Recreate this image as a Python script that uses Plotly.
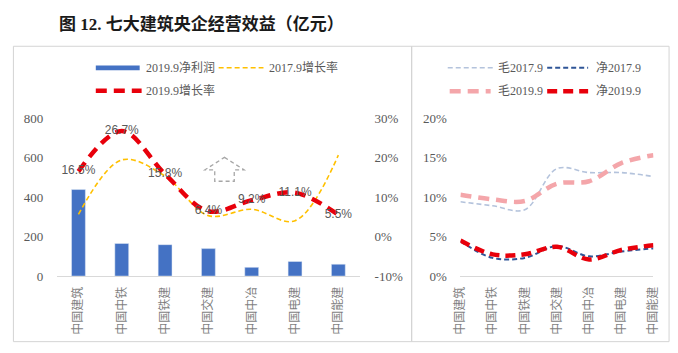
import plotly.graph_objects as go

W, H = 678, 353

# ---------------- data ----------------
companies = ["中国建筑", "中国中铁", "中国铁建", "中国交建", "中国中冶", "中国电建", "中国能建"]
profit_2019 = [438, 165, 159, 139, 44, 74, 60]               # 亿元
growth_2017 = [0.056, 0.194, 0.153, 0.053, 0.069, 0.040, 0.206]
growth_2019 = [0.165, 0.267, 0.158, 0.064, 0.092, 0.111, 0.055]
growth_2019_labels = ["16.5%", "26.7%", "15.8%", "6.4%", "9.2%", "11.1%", "5.5%"]

gross_2017 = [0.094, 0.089, 0.084, 0.136, 0.131, 0.131, 0.126]
net_2017 = [0.044, 0.023, 0.023, 0.038, 0.025, 0.031, 0.035]
gross_2019 = [0.103, 0.097, 0.095, 0.117, 0.120, 0.143, 0.153]
net_2019 = [0.045, 0.0275, 0.0275, 0.037, 0.021, 0.033, 0.039]

left_y_ticks = [0, 200, 400, 600, 800]
left_y2_ticks = [-0.1, 0, 0.1, 0.2, 0.3]
left_y2_text = ["-10%", "0%", "10%", "20%", "30%"]
right_y_ticks = [0, 0.05, 0.10, 0.15, 0.20]
right_y_text = ["0%", "5%", "10%", "15%", "20%"]

# ---------------- helpers ----------------
def PX(x):
    return x / W

def PY(y):
    return 1 - y / H

SERIF = "Liberation Serif, 'Noto Sans CJK SC', serif"
SANS = "'Liberation Sans', Arial, sans-serif"
CJK = "'Noto Sans CJK SC', sans-serif"
GRAY = "#595959"

BLUE = "#4472c4"
YELLOW = "#ffc000"
RED = "#e8000b"
PINK = "#f4a6aa"
LIGHTBLUE = "#b4c3dc"
DARKBLUE = "#2f5597"

fig = go.Figure()

# Left panel
fig.add_trace(go.Bar(x=companies, y=profit_2019, marker_color=BLUE, width=0.32,
                     xaxis="x", yaxis="y", showlegend=False))
fig.add_trace(go.Scatter(x=companies, y=growth_2017, mode="lines", line_shape="spline",
                         line=dict(color=YELLOW, width=1.6, dash="5px,3px"),
                         xaxis="x", yaxis="y2", showlegend=False))
fig.add_trace(go.Scatter(x=companies, y=growth_2019, mode="lines+text", line_shape="spline",
                         line=dict(color=RED, width=4.5, dash="11px,7px"),
                         text=growth_2019_labels, textposition="middle center",
                         textfont=dict(family=SANS, size=12, color=GRAY),
                         cliponaxis=False,
                         xaxis="x", yaxis="y2", showlegend=False))

# Right panel
fig.add_trace(go.Scatter(x=companies, y=gross_2017, mode="lines", line_shape="spline",
                         line=dict(color=LIGHTBLUE, width=1.6, dash="5px,3px"),
                         xaxis="x3", yaxis="y3", showlegend=False))
fig.add_trace(go.Scatter(x=companies, y=gross_2019, mode="lines", line_shape="spline",
                         line=dict(color=PINK, width=4.5, dash="11px,7px"),
                         xaxis="x3", yaxis="y3", showlegend=False))
fig.add_trace(go.Scatter(x=companies, y=net_2017, mode="lines", line_shape="spline",
                         line=dict(color=DARKBLUE, width=2, dash="5px,3px"),
                         xaxis="x3", yaxis="y3", showlegend=False))
fig.add_trace(go.Scatter(x=companies, y=net_2019, mode="lines", line_shape="spline",
                         line=dict(color=RED, width=4.5, dash="10px,6px"),
                         xaxis="x3", yaxis="y3", showlegend=False))

ydom = [PY(281), PY(116)]
tickfont = dict(family=SERIF, size=13, color=GRAY)
catfont = dict(family=CJK, size=12, color="#7f7f7f")

fig.update_layout(
    width=W, height=H,
    margin=dict(l=0, r=0, t=0, b=0),
    paper_bgcolor="white", plot_bgcolor="rgba(0,0,0,0)",
    showlegend=False,
    xaxis=dict(domain=[PX(48), PX(359)], anchor="y", showline=True, linecolor="#d9d9d9",
               linewidth=1, tickangle=-90, tickfont=catfont, ticks="outside", ticklen=5,
               tickcolor="rgba(0,0,0,0)", showgrid=False, zeroline=False),
    yaxis=dict(domain=ydom, range=[0, 800], tickvals=left_y_ticks, tickfont=tickfont,
               showgrid=False, zeroline=False, showline=False, ticks="outside", ticklen=10,
               tickcolor="rgba(0,0,0,0)"),
    yaxis2=dict(domain=ydom, range=[-0.1, 0.3], overlaying="y", side="right", anchor="x",
                tickvals=left_y2_ticks, ticktext=left_y2_text, tickfont=tickfont,
                showgrid=False, zeroline=False, showline=False, ticks="outside", ticklen=11,
                tickcolor="rgba(0,0,0,0)"),
    xaxis3=dict(domain=[PX(462), PX(660)], anchor="y3", showline=True, linecolor="#d9d9d9",
                linewidth=1, tickangle=-90, tickfont=catfont, ticks="outside", ticklen=5,
                tickcolor="rgba(0,0,0,0)", showgrid=False, zeroline=False),
    yaxis3=dict(domain=ydom, range=[0, 0.2], anchor="x3", tickvals=right_y_ticks,
                ticktext=right_y_text, tickfont=tickfont, showgrid=False, zeroline=False,
                showline=False, ticks="outside", ticklen=10, tickcolor="rgba(0,0,0,0)"),
)

shapes = []
annotations = []

# panel borders
shapes.append(dict(type="rect", xref="paper", yref="paper", x0=PX(3.5), x1=PX(412), y0=PY(349.5), y1=PY(41),
                   line=dict(color="#d4d4d4", width=1)))
shapes.append(dict(type="rect", xref="paper", yref="paper", x0=PX(412), x1=PX(676), y0=PY(349.5), y1=PY(41),
                   line=dict(color="#d4d4d4", width=1)))

# up-arrow decoration (dashed outline)
pts = [(220, 157), (240, 170), (230, 170), (230, 182), (210, 182), (210, 170), (200, 170)]
path = "M " + " L ".join(f"{PX(x)},{PY(y)}" for x, y in pts) + " Z"
shapes.append(dict(type="path", xref="paper", yref="paper", path=path,
                   line=dict(color="#a6a6a6", width=1.3, dash="4px,3px")))

def legend_line(x0, x1, y, color, width, dash):
    shapes.append(dict(type="line", xref="paper", yref="paper", x0=PX(x0), x1=PX(x1),
                       y0=PY(y), y1=PY(y), line=dict(color=color, width=width, dash=dash)))

def legend_text(x, y, text):
    annotations.append(dict(xref="paper", yref="paper", x=PX(x), y=PY(y), text=text,
                            showarrow=False, xanchor="left", yanchor="middle",
                            font=dict(family=SERIF, size=12, color=GRAY)))

# left legend
shapes.append(dict(type="rect", xref="paper", yref="paper", x0=PX(88), x1=PX(133),
                   y0=PY(66), y1=PY(61), fillcolor=BLUE, line=dict(width=0)))
legend_text(137, 63.5, "2019.9净利润")
legend_line(214, 260, 63.5, YELLOW, 1.6, "5px,3px")
legend_text(264, 63.5, "2017.9增长率")
legend_line(88, 135, 87.5, RED, 4.5, "11px,7px")
legend_text(137, 87.5, "2019.9增长率")

# right legend
legend_line(449, 497, 63.5, LIGHTBLUE, 1.6, "5px,3px")
legend_text(499, 63.5, "毛2017.9")
legend_line(551, 593, 63.5, DARKBLUE, 2, "5px,3px")
legend_text(599, 63.5, "净2017.9")
legend_line(451, 493, 88, PINK, 4.5, "11px,7px")
legend_text(499, 88, "毛2019.9")
legend_line(551, 593, 88, RED, 4.5, "10px,6px")
legend_text(599, 88, "净2019.9")

# title
annotations.append(dict(xref="paper", yref="paper", x=PX(48), y=PY(18),
                        text="<b>图 12. 七大建筑央企经营效益（亿元）</b>", showarrow=False,
                        xanchor="left", yanchor="middle",
                        font=dict(family=SERIF, size=17, color="#1a1a1a")))

fig.update_layout(shapes=shapes, annotations=annotations)

fig.write_html("out.html")
